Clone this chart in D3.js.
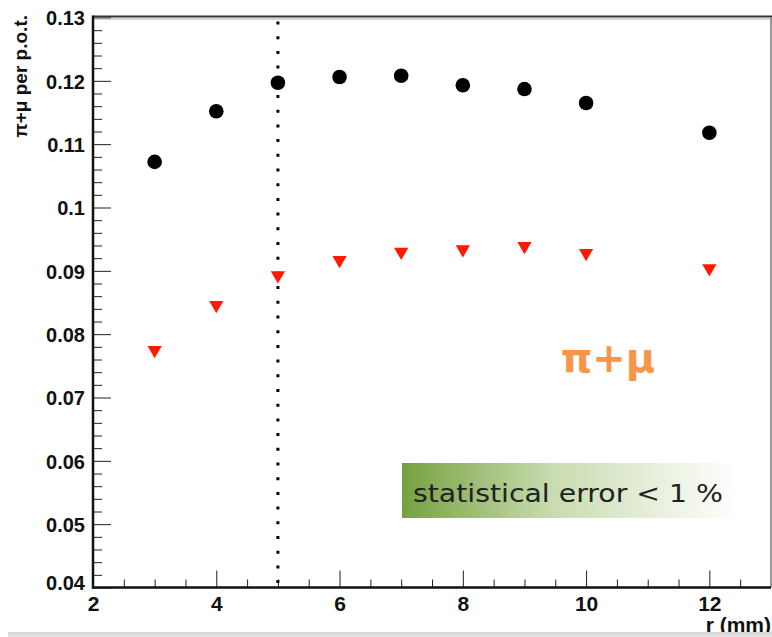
<!DOCTYPE html>
<html>
<head>
<meta charset="utf-8">
<script src="https://cdn.jsdelivr.net/npm/d3@7"></script>
<style>
  body { margin: 0; background: white; }
  svg { display: block; }
</style>
</head>
<body>
<svg id="vis"></svg>
<script>
// data
const rValues = [3, 4, 5, 6, 7, 8, 9, 10, 12]
const upperYield = [0.1072, 0.1152, 0.1197, 0.1206, 0.1208, 0.1193, 0.1187, 0.1165, 0.1118]
const lowerYield = [0.0775, 0.0846, 0.0893, 0.0917, 0.0930, 0.0934, 0.0939, 0.0928, 0.0904]
const xTickValues = [2, 4, 6, 8, 10, 12]
const yTickValues = [0.04, 0.05, 0.06, 0.07, 0.08, 0.09, 0.1, 0.11, 0.12, 0.13]
const cutR = 5

// frame
const LEFT = 93
const RIGHT = 771
const TOP = 17.5
const BOTTOM = 587.5

var svg = d3.select('#vis')
    .attr('width', 772)
    .attr('height', 637)

var x = d3.scaleLinear().domain([2, 13]).range([LEFT, RIGHT])
var y = d3.scaleLinear().domain([0.04, 0.13]).range([BOTTOM, TOP])

var defs = svg.append('defs')
var grad = defs.append('linearGradient').attr('id', 'boxGrad')
grad.append('stop').attr('offset', '0%').attr('stop-color', '#76a140')
grad.append('stop').attr('offset', '45%').attr('stop-color', '#c9dcb0')
grad.append('stop').attr('offset', '100%').attr('stop-color', '#ffffff')
var barGrad = defs.append('linearGradient').attr('id', 'barGrad')
    .attr('x1', 0).attr('x2', 0).attr('y1', 0).attr('y2', 1)
barGrad.append('stop').attr('offset', '0%').attr('stop-color', '#d6d6d6')
barGrad.append('stop').attr('offset', '100%').attr('stop-color', '#e6e6e6')

// minor ticks
var yMinor = d3.range(0.042, 0.13, 0.002).filter(v => Math.abs(v * 100 - Math.round(v * 100)) > 1e-6)
var xMinor = d3.range(2.5, 13, 0.5).filter(v => v % 2 !== 0)

svg.append('g')
    .attr('transform', `translate(${LEFT},0)`)
    .call(d3.axisRight(y).tickValues(yMinor).tickSize(9).tickFormat(''))
    .call(g => g.select('.domain').remove())
    .selectAll('line').attr('stroke', '#222').attr('stroke-width', 1)

svg.append('g')
    .attr('transform', `translate(0,${BOTTOM})`)
    .call(d3.axisTop(x).tickValues(xMinor).tickSize(8).tickFormat(''))
    .call(g => g.select('.domain').remove())
    .selectAll('line').attr('stroke', '#222').attr('stroke-width', 1)

// major ticks + labels
var yAxis = svg.append('g')
    .attr('transform', `translate(${LEFT},0)`)
    .call(d3.axisLeft(y).tickValues(yTickValues).tickSize(-18).tickPadding(8)
        .tickFormat(d => d3.format('.2~f')(d)))
yAxis.select('.domain').remove()
yAxis.selectAll('line').attr('stroke', '#222').attr('stroke-width', 1)
yAxis.selectAll('text')
    .attr('font-family', 'Liberation Sans, Arial, sans-serif')
    .attr('font-weight', 'bold')
    .attr('font-size', 20)
    .attr('fill', '#111')
    .attr('dy', '0.36em')
yAxis.selectAll('.tick').filter(d => d === 0.04).select('text').attr('dy', '0.1em')

var xAxis = svg.append('g')
    .attr('transform', `translate(0,${BOTTOM})`)
    .call(d3.axisBottom(x).tickValues(xTickValues).tickSize(-17).tickPadding(9))
xAxis.select('.domain').remove()
xAxis.selectAll('line').attr('stroke', '#222').attr('stroke-width', 1)
xAxis.selectAll('text')
    .attr('font-family', 'Liberation Sans, Arial, sans-serif')
    .attr('font-weight', 'bold')
    .attr('font-size', 21)
    .attr('fill', '#111')
    .attr('dy', '0.71em')

// frame lines
svg.append('line') // top (double)
    .attr('x1', LEFT).attr('x2', RIGHT + 1).attr('y1', TOP - 1).attr('y2', TOP - 1)
    .attr('stroke', '#333').attr('stroke-width', 2)
svg.append('line')
    .attr('x1', LEFT).attr('x2', RIGHT + 1).attr('y1', TOP + 1.5).attr('y2', TOP + 1.5)
    .attr('stroke', '#aaa').attr('stroke-width', 1)
svg.append('line') // right
    .attr('x1', RIGHT).attr('x2', RIGHT).attr('y1', TOP).attr('y2', BOTTOM)
    .attr('stroke', '#777').attr('stroke-width', 1.5)
svg.append('line') // left
    .attr('x1', LEFT).attr('x2', LEFT).attr('y1', TOP - 2).attr('y2', BOTTOM + 1)
    .attr('stroke', '#111').attr('stroke-width', 2.5)
svg.append('line') // bottom
    .attr('x1', LEFT - 1).attr('x2', RIGHT).attr('y1', BOTTOM).attr('y2', BOTTOM)
    .attr('stroke', '#111').attr('stroke-width', 2.5)

// dotted cut line
svg.append('line')
    .attr('x1', x(cutR)).attr('x2', x(cutR))
    .attr('y1', TOP + 4).attr('y2', BOTTOM - 4)
    .attr('stroke', '#000')
    .attr('stroke-width', 3)
    .attr('stroke-dasharray', '3,11.7')

// points
svg.append('g').selectAll('circle')
    .data(rValues)
    .join('circle')
    .attr('cx', (d) => x(d))
    .attr('cy', (d, i) => y(upperYield[i]))
    .attr('r', 7.3)
    .attr('fill', '#000')

svg.append('g').selectAll('path')
    .data(rValues)
    .join('path')
    .attr('d', d3.symbol(d3.symbolTriangle, 88))
    .attr('transform', (d, i) => `translate(${x(d)},${y(lowerYield[i])}) rotate(180)`)
    .attr('fill', '#ff1a00')

// axis titles
svg.append('text')
    .attr('transform', 'translate(27,15) rotate(-90)')
    .attr('text-anchor', 'end')
    .attr('font-family', 'Liberation Sans, Arial, sans-serif')
    .attr('font-weight', 'bold')
    .attr('font-size', 19)
    .attr('fill', '#111')
    .text('π+μ per p.o.t.')

svg.append('text')
    .attr('x', 771)
    .attr('y', 632)
    .attr('text-anchor', 'end')
    .attr('font-family', 'Liberation Sans, Arial, sans-serif')
    .attr('font-weight', 'bold')
    .attr('font-size', 21)
    .attr('fill', '#111')
    .text('r (mm)')

// annotations
svg.append('text')
    .attr('x', 608)
    .attr('y', 372)
    .attr('text-anchor', 'middle')
    .attr('font-family', 'DejaVu Sans, sans-serif')
    .attr('font-weight', 'bold')
    .attr('font-size', 40)
    .attr('fill', '#f79646')
    .text('π+μ')

svg.append('rect')
    .attr('x', 402)
    .attr('y', 463)
    .attr('width', 336)
    .attr('height', 55)
    .attr('fill', 'url(#boxGrad)')

svg.append('text')
    .attr('x', 413)
    .attr('y', 502)
    .attr('font-family', 'DejaVu Sans, sans-serif')
    .attr('font-size', 24)
    .attr('textLength', 310)
    .attr('lengthAdjust', 'spacingAndGlyphs')
    .attr('fill', '#222')
    .text('statistical error < 1 %')

// bottom grey strip
svg.append('rect')
    .attr('x', 8)
    .attr('y', 632)
    .attr('width', 764)
    .attr('height', 5)
    .attr('fill', 'url(#barGrad)')
</script>
</body>
</html>
